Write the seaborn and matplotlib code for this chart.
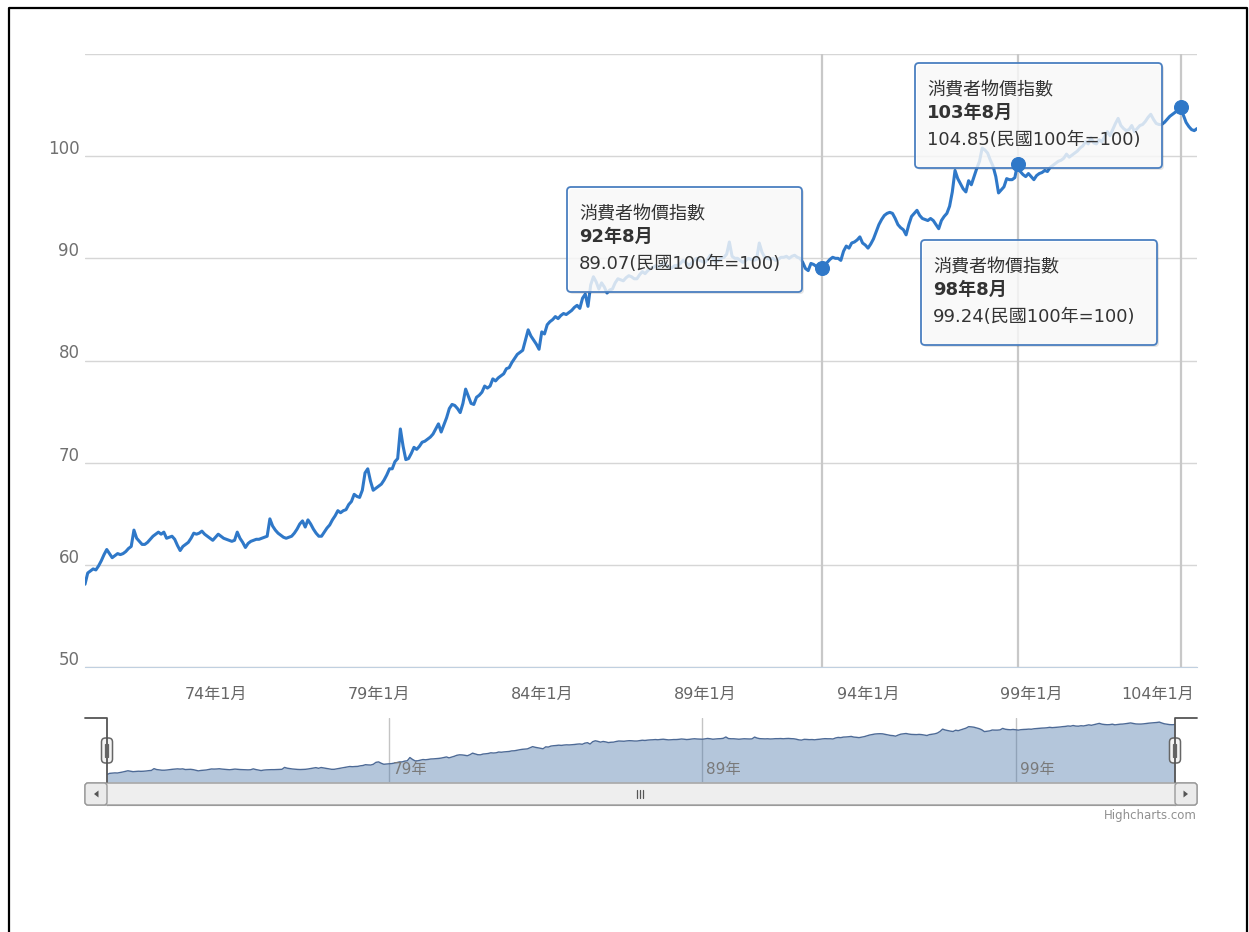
import matplotlib.pyplot as plt
import matplotlib.transforms as mtransforms
from matplotlib.lines import Line2D
from matplotlib.patches import FancyBboxPatch, Polygon
import numpy as np
import pandas as pd
import seaborn as sns

W, H = 1249, 932
START_YEAR = 70

# monthly CPI (民國100年=100), one row per year
cpi_70s = [
    58.1, 59.2, 59.4, 59.6, 59.5, 59.9, 60.4, 61.0, 61.5, 61.1, 60.7, 60.9,
    61.1, 61.0, 61.1, 61.3, 61.6, 61.8, 63.4, 62.6, 62.3, 62.0, 62.0, 62.2,
    62.5, 62.8, 63.0, 63.2, 63.0, 63.2, 62.6, 62.7, 62.8, 62.5, 61.9, 61.4,
    61.8, 62.0, 62.2, 62.6, 63.1, 63.0, 63.1, 63.3, 63.0, 62.8, 62.6, 62.4,
    62.7, 63.0, 62.8, 62.6, 62.5, 62.4, 62.3, 62.4, 63.2, 62.6, 62.2, 61.7,
    62.1, 62.3, 62.4, 62.5, 62.5, 62.6, 62.7, 62.8, 64.5, 63.8, 63.4, 63.1,
    62.9, 62.7, 62.6, 62.7, 62.8, 63.1, 63.5, 64.0, 64.3, 63.7, 64.4, 64.0,
    63.5, 63.1, 62.8, 62.8, 63.2, 63.6, 63.9, 64.4, 64.8, 65.3, 65.1, 65.3,
    65.4, 65.9, 66.2, 66.9, 66.7, 66.6, 67.3, 69.0, 69.4, 68.2, 67.3, 67.5,
    67.7, 67.9, 68.3, 68.8, 69.4, 69.4, 70.1, 70.4, 73.3, 71.6, 70.3, 70.4,
]
cpi_80s = [
    70.9, 71.5, 71.3, 71.6, 72.0, 72.1, 72.3, 72.5, 72.8, 73.3, 73.8, 73.0,
    73.7, 74.4, 75.3, 75.7, 75.6, 75.3, 74.9, 75.8, 77.2, 76.5, 75.8, 75.7,
    76.4, 76.6, 76.9, 77.5, 77.3, 77.5, 78.2, 78.0, 78.3, 78.5, 78.7, 79.2,
    79.3, 79.8, 80.2, 80.6, 80.8, 81.0, 82.0, 83.0, 82.4, 82.0, 81.6, 81.1,
    82.8, 82.6, 83.5, 83.8, 84.0, 84.3, 84.1, 84.4, 84.6, 84.5, 84.7, 84.9,
    85.2, 85.4, 85.1, 86.1, 86.5, 85.3, 87.4, 88.2, 87.7, 87.0, 87.6, 87.2,
    86.6, 86.9, 87.0, 87.6, 88.0, 87.9, 87.8, 88.1, 88.3, 88.2, 88.0, 88.0,
    88.4, 88.7, 88.5, 88.8, 89.0, 89.1, 89.3, 89.1, 89.4, 89.6, 89.3, 89.0,
    89.1, 89.3, 89.3, 89.5, 89.8, 89.6, 89.3, 89.5, 89.8, 90.0, 89.8, 89.7,
    89.6, 89.9, 90.3, 90.0, 89.6, 89.8, 90.0, 90.1, 90.4, 91.6, 90.2, 90.0,
]
cpi_90s = [
    90.0, 89.8, 89.6, 89.8, 90.0, 89.9, 89.8, 89.9, 91.5, 90.6, 90.1, 90.0,
    89.9, 90.0, 89.8, 89.9, 90.1, 90.1, 90.2, 90.0, 90.2, 90.3, 90.1, 90.0,
    89.6, 89.0, 88.8, 89.5, 89.4, 89.2, 89.3, 89.07, 89.4, 89.6, 89.9, 90.1,
    90.0, 90.0, 89.8, 90.7, 91.2, 91.0, 91.5, 91.6, 91.8, 92.1, 91.5, 91.3,
    91.0, 91.4, 91.9, 92.6, 93.3, 93.8, 94.2, 94.4, 94.5, 94.4, 93.9, 93.3,
    93.0, 92.8, 92.3, 93.3, 94.1, 94.4, 94.7, 94.2, 93.9, 93.8, 93.7, 93.9,
    93.7, 93.3, 92.9, 93.7, 94.1, 94.4, 95.1, 96.5, 98.6, 97.8, 97.3, 96.8,
    96.5, 97.6, 97.2, 98.0, 98.8, 99.5, 100.8, 100.6, 100.3, 99.6, 99.0, 98.0,
    96.4, 96.7, 97.0, 97.8, 97.7, 97.7, 97.9, 99.24, 98.5, 98.2, 98.0, 98.3,
    98.0, 97.7, 98.1, 98.3, 98.4, 98.6, 98.5, 98.9, 99.1, 99.3, 99.5, 99.6,
]
cpi_100s = [
    99.8, 100.2, 99.9, 100.1, 100.3, 100.5, 100.8, 101.0, 101.4, 101.2, 101.8, 101.3,
    101.2, 101.6, 101.4, 101.9, 102.4, 102.0, 102.6, 103.2, 103.7, 103.0, 102.7, 102.5,
    102.6, 103.0, 102.4, 102.7, 103.0, 103.1, 103.4, 103.8, 104.1, 103.6, 103.2, 103.1,
    103.1, 103.3, 103.6, 103.9, 104.1, 104.3, 104.5, 104.85, 104.0, 103.3, 102.9, 102.6,
    102.5, 102.7,
]

tick_years = [74, 79, 84, 89, 94, 99, 104]
tick_labels = ["74年1月", "79年1月", "84年1月", "89年1月", "94年1月", "99年1月", "104年1月"]
nav_years = [79, 89, 99]
nav_labels = ["79年", "89年", "99年"]

series_name = "消費者物價指數"
unit_text = "(民國100年=100)"
tip_points = ["92年8月", "98年8月", "103年8月"]

LINE = "#2f78c8"


def month_index(label):
    y, m = label.rstrip("月").split("年")
    return (int(y) - START_YEAR) * 12 + int(m) - 1


cpi = cpi_70s + cpi_80s + cpi_90s + cpi_100s
df = pd.DataFrame({"month": np.arange(len(cpi)), "cpi": cpi})
tip_idx = [month_index(t) for t in tip_points]
tips = df.loc[tip_idx]

sns.set_style("white")
plt.rcParams["font.family"] = ["DejaVu Sans", "Noto Sans CJK TC"]

fig = plt.figure(figsize=(W / 100, H / 100), dpi=100)
pix = mtransforms.Affine2D().scale(1 / W, -1 / H).translate(0, 1) + fig.transFigure


def fig_rect(x0, y0, x1, y1):
    return [x0 / W, 1 - y1 / H, (x1 - x0) / W, (y1 - y0) / H]


# ---- main chart ----
ax = fig.add_axes(fig_rect(85, 54, 1197, 667))
sns.lineplot(data=df, x="month", y="cpi", ax=ax, color=LINE, linewidth=2.2, zorder=3)
ax.set_xlim(0, len(cpi) - 1)
ax.set_ylim(50, 110)
ax.set_xlabel("")
ax.set_ylabel("")
yt = list(range(50, 111, 10))
ax.set_yticks(yt)
ax.set_yticklabels([str(v) if v < 110 else "" for v in yt])
ax.grid(axis="y", color="#d6d6d6", linewidth=1)
for s in ["top", "right", "left"]:
    ax.spines[s].set_visible(False)
ax.spines["bottom"].set_color("#c0d0e0")
ax.tick_params(axis="y", length=0, pad=4, labelsize=12, labelcolor="#707070")
for lab in ax.get_yticklabels():
    lab.set_transform(lab.get_transform() + mtransforms.ScaledTranslation(0, 0.09, fig.dpi_scale_trans))
ax.set_xticks([month_index(f"{y}年1月") for y in tick_years])
ax.set_xticklabels(tick_labels)
ax.tick_params(axis="x", length=8, color="#c0d0e0", pad=6, labelsize=11.5, labelcolor="#666666")
ax.get_xticklabels()[-1].set_ha("right")

for i in tip_idx:
    ax.axvline(i, color="#c8c8c8", linewidth=1.6, zorder=1)

# tooltips (pixel boxes, same order as tip_points)
tip_boxes = [(567, 187, 802, 292), (921, 240, 1157, 345), (915, 63, 1162, 168)]
for (x0, y0, x1, y1), label, (_, row) in zip(tip_boxes, tip_points, tips.iterrows()):
    shadow = FancyBboxPatch((x0 + 2, y0 + 2), x1 - x0, y1 - y0,
                            boxstyle="round,pad=0,rounding_size=4", transform=pix,
                            fc=(0, 0, 0, 0.10), ec="none", zorder=4, clip_on=False)
    box = FancyBboxPatch((x0, y0), x1 - x0, y1 - y0,
                         boxstyle="round,pad=0,rounding_size=4", transform=pix,
                         fc=(1, 1, 1, 0.80), ec="#4a7fc0", linewidth=1.3, zorder=5, clip_on=False)
    ax.add_patch(shadow)
    ax.add_patch(box)
    ax.text(x0 + 12, y0 + 27, series_name, transform=pix, fontsize=13, color="#333333",
            va="center", zorder=6)
    ax.text(x0 + 12, y0 + 50, label, transform=pix, fontsize=13, color="#333333",
            fontweight="bold", va="center", zorder=6)
    ax.text(x0 + 12, y0 + 77, f"{row['cpi']:.2f}{unit_text}", transform=pix, fontsize=13,
            color="#333333", va="center", zorder=6)

sns.scatterplot(data=tips, x="month", y="cpi", ax=ax, s=100, color=LINE, edgecolor=LINE,
                zorder=7, legend=False, clip_on=False)
ax.set_xlabel("")
ax.set_ylabel("")

# ---- navigator ----
nav = fig.add_axes(fig_rect(107, 718, 1175, 782))
nav_bottom = 51.5
for y in nav_years:
    nav.axvline(month_index(f"{y}年1月"), color="#c4c4c4", linewidth=1, zorder=0)
nav.fill_between(df["month"], df["cpi"], nav_bottom, color="#4572a7", alpha=0.4, linewidth=0, zorder=1)
sns.lineplot(data=df, x="month", y="cpi", ax=nav, color="#4d6a96", linewidth=1, zorder=2)
nav.set_xlim(0, len(cpi) - 1)
nav.set_ylim(nav_bottom, 108.5)
nav.set_axis_off()
lab_tr = mtransforms.blended_transform_factory(nav.transData, nav.transAxes) + \
    mtransforms.ScaledTranslation(0.04, 0, fig.dpi_scale_trans)
for y, lab in zip(nav_years, nav_labels):
    nav.text(month_index(f"{y}年1月"), 0.19, lab, transform=lab_tr, fontsize=11,
             color="#7a7a7a", va="center", ha="left", zorder=3)

# navigator outline and handles
fig.add_artist(Line2D([85, 107, 107], [718, 718, 782], transform=pix, color="#555555", linewidth=1.3))
fig.add_artist(Line2D([1197, 1175, 1175], [718, 718, 782], transform=pix, color="#555555", linewidth=1.3))
for hx in [107, 1175]:
    fig.add_artist(FancyBboxPatch((hx - 5.5, 738), 11, 25, boxstyle="round,pad=0,rounding_size=4",
                                  transform=pix, fc="#f4f4f4", ec="#666666", linewidth=1.1))
    for dx in [-1.5, 1.5]:
        fig.add_artist(Line2D([hx + dx, hx + dx], [744, 757], transform=pix, color="#666666", linewidth=0.9))

# ---- scrollbar ----
fig.add_artist(FancyBboxPatch((85, 783), 1112, 22, boxstyle="round,pad=0,rounding_size=3",
                              transform=pix, fc="#eeeeee", ec="#9a9a9a", linewidth=1))
thumb = fig.add_axes(fig_rect(107, 783, 1175, 805))
thumb.imshow(np.linspace(0.99, 0.85, 20).reshape(-1, 1), cmap="gray", vmin=0, vmax=1,
             aspect="auto", extent=(0, 1, 0, 1))
thumb.set_xticks([])
thumb.set_yticks([])
for s in thumb.spines.values():
    s.set_color("#9a9a9a")
for bx, pts in [(85, [(98.5, 790.5), (98.5, 797.5), (94, 794)]),
                (1175, [(1183.5, 790.5), (1183.5, 797.5), (1188, 794)])]:
    fig.add_artist(FancyBboxPatch((bx, 783), 22, 22, boxstyle="round,pad=0,rounding_size=3",
                                  transform=pix, fc="#ebebeb", ec="#9a9a9a", linewidth=1))
    fig.add_artist(Polygon(pts, closed=True, transform=pix, fc="#555555", ec="none"))
for gx in [637, 640, 643]:
    fig.add_artist(Line2D([gx, gx], [789.5, 797.5], transform=pix, color="#555555", linewidth=0.9))

fig.text(1197 / W, 1 - 815 / H, "Highcharts.com", ha="right", va="center", fontsize=8.5, color="#909090")

# outer frame
fig.add_artist(Line2D([9, 9, 1247, 1247], [940, 8, 8, 940], transform=pix, color="black", linewidth=1.6))

fig.savefig("out.png", dpi=100)
